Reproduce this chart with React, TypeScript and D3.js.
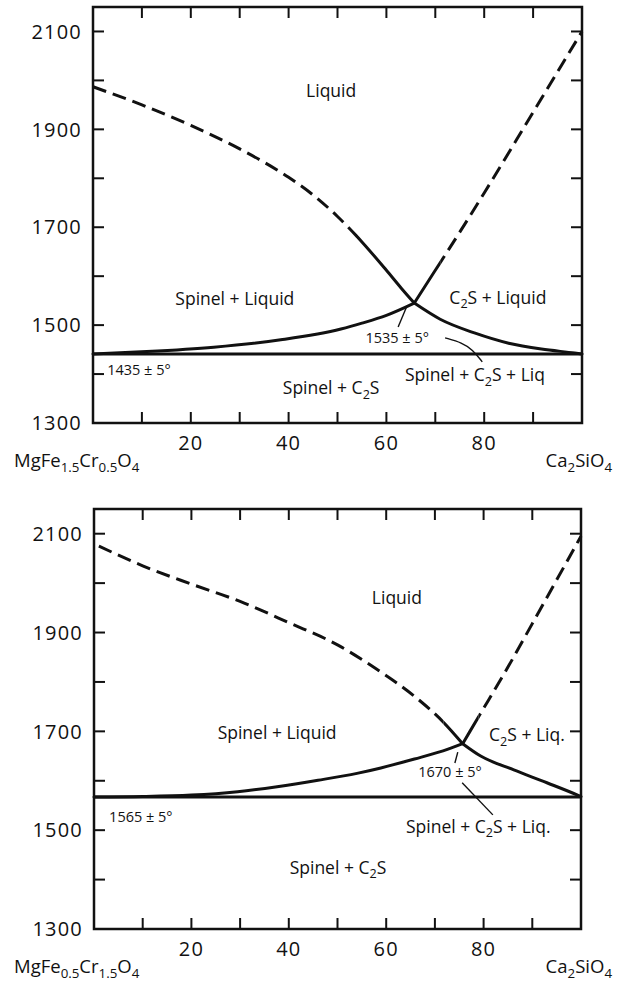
import React from "react";
import * as d3 from "d3";

type Pt = [number, number];

const W = 620;
const H = 983;

// axes
const xTicks = d3.range(10, 100, 10);
const xTickLabels = [20, 40, 60, 80];
const yTicks = d3.range(1300, 2101, 100);
const yTickLabels = [1300, 1500, 1700, 1900, 2100];

// upper diagram: MgFe1.5Cr0.5O4 - Ca2SiO4 (wt %, deg C)
const aSpinelLiquidus: Pt[] = [[0, 1987], [10, 1950], [20, 1908], [30, 1860], [40, 1802], [45, 1766], [50, 1722], [55, 1670], [60, 1612], [63, 1576], [65.7, 1545]];
const aC2sLiquidus: Pt[] = [[65.7, 1545], [70, 1612], [75, 1690], [80, 1770], [90, 1935], [100, 2100]];
const aSpinelLower: Pt[] = [[0, 1441], [11, 1446], [24.7, 1455], [38.4, 1470], [50.7, 1492], [55, 1504], [60, 1520], [65.7, 1545]];
const aC2sLower: Pt[] = [[65.7, 1545], [71, 1512], [78, 1484], [85, 1463], [91.7, 1451], [98.5, 1443], [100, 1441]];
const aInvariant = 1441;
// where the liquidus curves change from dashed (estimated) to solid
const aSplits = [54, 71];

// lower diagram: MgFe0.5Cr1.5O4 - Ca2SiO4
const bSpinelLiquidus: Pt[] = [[1, 2075], [10, 2035], [20, 1998], [30, 1963], [40, 1920], [50, 1875], [58, 1826], [65.8, 1771], [71.8, 1718], [75.7, 1675]];
const bC2sLiquidus: Pt[] = [[75.7, 1675], [79, 1730], [85, 1830], [90, 1918], [100, 2095]];
const bSpinelLower: Pt[] = [[0, 1567], [10, 1568], [20, 1571], [29.5, 1578], [37.6, 1588], [46, 1601], [54, 1615], [58.9, 1626], [65.8, 1644], [72.7, 1664], [75.7, 1675]];
const bC2sLower: Pt[] = [[75.7, 1675], [79.4, 1650], [86.2, 1622], [93, 1596], [99.3, 1571], [100, 1568]];
const bInvariant = 1567;
const bSplits = [71.8, 79];

// field labels: [x, T, text, kind]
const aLabels: [number, number, string, string][] = [
  [48.7, 1980, "Liquid", "big"],
  [29, 1555, "Spinel + Liquid", "big"],
  [82.8, 1557, "C_2S + Liquid", "big"],
  [62.2, 1474, "1535 ± 5°", "small"],
  [2.9, 1408, "1435 ± 5°", "smallLeft"],
  [48.7, 1372, "Spinel + C_2S", "big"],
  [78.1, 1398, "Spinel + C_2S + Liq", "big"],
];
const bLabels: [number, number, string, string][] = [
  [62.2, 1970, "Liquid", "big"],
  [37.6, 1697, "Spinel + Liquid", "big"],
  [88.9, 1693, "C_2S + Liq.", "big"],
  [73.1, 1618, "1670 ± 5°", "small"],
  [3.1, 1527, "1565 ± 5°", "smallLeft"],
  [78.9, 1508, "Spinel + C_2S + Liq.", "big"],
  [50.1, 1425, "Spinel + C_2S", "big"],
];

const aLeaders: Pt[][] = [
  [[64.2, 1539], [62.4, 1496]],
  [[72, 1474], [75.5, 1464], [77.6, 1450], [79.6, 1425]],
];
const bLeaders: Pt[][] = [
  [[74.7, 1658], [74.1, 1636]],
  [[75.6, 1596], [81.9, 1531]],
];

const ink = "#111";
const font = "'Open Sans', 'DejaVu Sans', sans-serif";

function Rich({ x, y, text, size, anchor }: { x: number; y: number; text: string; size: number; anchor: string }) {
  const parts = text.split(/(_\{[^}]*\}|_.)/).filter(Boolean);
  const shift = size * 0.27;
  let low = false;
  return (
    <text x={x} y={y + size * 0.36} fontSize={size} textAnchor={anchor} fill={ink} fontFamily={font}>
      {parts.map((p, i) => {
        if (p.startsWith("_")) {
          const s = p.startsWith("_{") ? p.slice(2, -1) : p.slice(1);
          const dy = low ? 0 : shift;
          low = true;
          return (
            <tspan key={i} fontSize={size * 0.72} dy={dy}>
              {s}
            </tspan>
          );
        }
        const dy = low ? -shift : 0;
        low = false;
        return (
          <tspan key={i} dy={dy}>
            {p}
          </tspan>
        );
      })}
    </text>
  );
}

function Panel({ id, box, invariant, liquidus, splits, lower, labels, leaders, leftName, rightName }: any) {
  const x = d3.scaleLinear().domain([0, 100]).range([box.left, box.right]);
  const y = d3.scaleLinear().domain([1300, 2150]).range([box.bottom, box.top]);
  const line = d3
    .line<Pt>()
    .x((d) => x(d[0]))
    .y((d) => y(d[1]))
    .curve(d3.curveMonotoneX);
  const leader = d3
    .line<Pt>()
    .x((d) => x(d[0]))
    .y((d) => y(d[1]))
    .curve(d3.curveBasis);
  const tk = 11;
  // spinel liquidus dashed left of split, C2S liquidus dashed right of split
  const clips = [
    { dashed: [0, x(splits[0])], solid: [x(splits[0]), W] },
    { dashed: [x(splits[1]), W], solid: [0, x(splits[1])] },
  ];

  return (
    <g>
      <defs>
        {clips.map((c, i) => (
          <React.Fragment key={i}>
            <clipPath id={`${id}-d${i}`}>
              <rect x={c.dashed[0]} y={0} width={c.dashed[1] - c.dashed[0]} height={H} />
            </clipPath>
            <clipPath id={`${id}-s${i}`}>
              <rect x={c.solid[0]} y={0} width={c.solid[1] - c.solid[0]} height={H} />
            </clipPath>
          </React.Fragment>
        ))}
      </defs>

      {/* phase boundaries */}
      {liquidus.map((c: Pt[], i: number) => (
        <g key={"liq" + i}>
          <path d={line(c) || ""} fill="none" stroke={ink} strokeWidth={3} strokeDasharray="14 7" clipPath={`url(#${id}-d${i})`} />
          <path d={line(c) || ""} fill="none" stroke={ink} strokeWidth={3} clipPath={`url(#${id}-s${i})`} />
        </g>
      ))}
      {lower.map((c: Pt[], i: number) => (
        <path key={"low" + i} d={line(c) || ""} fill="none" stroke={ink} strokeWidth={3} strokeLinecap="round" />
      ))}
      <line x1={x(0)} x2={x(100)} y1={y(invariant)} y2={y(invariant)} stroke={ink} strokeWidth={3} />
      {leaders.map((c: Pt[], i: number) => (
        <path key={"l" + i} d={leader(c) || ""} fill="none" stroke={ink} strokeWidth={1.4} />
      ))}

      {/* frame and ticks */}
      <rect x={box.left} y={box.top} width={box.right - box.left} height={box.bottom - box.top} fill="none" stroke={ink} strokeWidth={2.5} />
      {xTicks.map((t) => (
        <g key={"x" + t} stroke={ink} strokeWidth={2}>
          <line x1={x(t)} x2={x(t)} y1={box.bottom} y2={box.bottom - tk} />
          <line x1={x(t)} x2={x(t)} y1={box.top} y2={box.top + tk} />
        </g>
      ))}
      {yTicks.map((t) => (
        <g key={"y" + t} stroke={ink} strokeWidth={2}>
          <line x1={box.left} x2={box.left + tk} y1={y(t)} y2={y(t)} />
          <line x1={box.right} x2={box.right - tk} y1={y(t)} y2={y(t)} />
        </g>
      ))}
      {yTickLabels.map((t) => (
        <text key={"yl" + t} x={box.left - 11} y={y(t)} dy="0.36em" textAnchor="end" fontSize={20} letterSpacing={1.2} fill={ink} fontFamily={font}>
          {t}
        </text>
      ))}
      {xTickLabels.map((t) => (
        <text key={"xl" + t} x={x(t)} y={box.bottom + 20} dy="0.36em" textAnchor="middle" fontSize={20} letterSpacing={1.2} fill={ink} fontFamily={font}>
          {t}
        </text>
      ))}
      <Rich x={14} y={box.bottom + 37} text={leftName} size={18.5} anchor="start" />
      <Rich x={612} y={box.bottom + 37} text={rightName} size={18.5} anchor="end" />

      {/* field labels */}
      {labels.map(([vx, vt, s, kind]: [number, number, string, string], i: number) => (
        <Rich
          key={"f" + i}
          x={x(vx)}
          y={y(vt)}
          text={s}
          size={kind === "big" ? 17.5 : 14.5}
          anchor={kind === "smallLeft" ? "start" : "middle"}
        />
      ))}
    </g>
  );
}

export default function App() {
  return (
    <svg width={W} height={H} style={{ position: "absolute", left: 0, top: 0, background: "#fff" }}>
      <rect width={W} height={H} fill="#fff" />
      <Panel
        id="pa"
        box={{ left: 93, right: 582, top: 7, bottom: 423 }}
        invariant={aInvariant}
        liquidus={[aSpinelLiquidus, aC2sLiquidus]}
        splits={aSplits}
        lower={[aSpinelLower, aC2sLower]}
        labels={aLabels}
        leaders={aLeaders}
        leftName="MgFe_{1.5}Cr_{0.5}O_4"
        rightName="Ca_2SiO_4"
      />
      <Panel
        id="pb"
        box={{ left: 94, right: 581, top: 509, bottom: 929 }}
        invariant={bInvariant}
        liquidus={[bSpinelLiquidus, bC2sLiquidus]}
        splits={bSplits}
        lower={[bSpinelLower, bC2sLower]}
        labels={bLabels}
        leaders={bLeaders}
        leftName="MgFe_{0.5}Cr_{1.5}O_4"
        rightName="Ca_2SiO_4"
      />
    </svg>
  );
}
